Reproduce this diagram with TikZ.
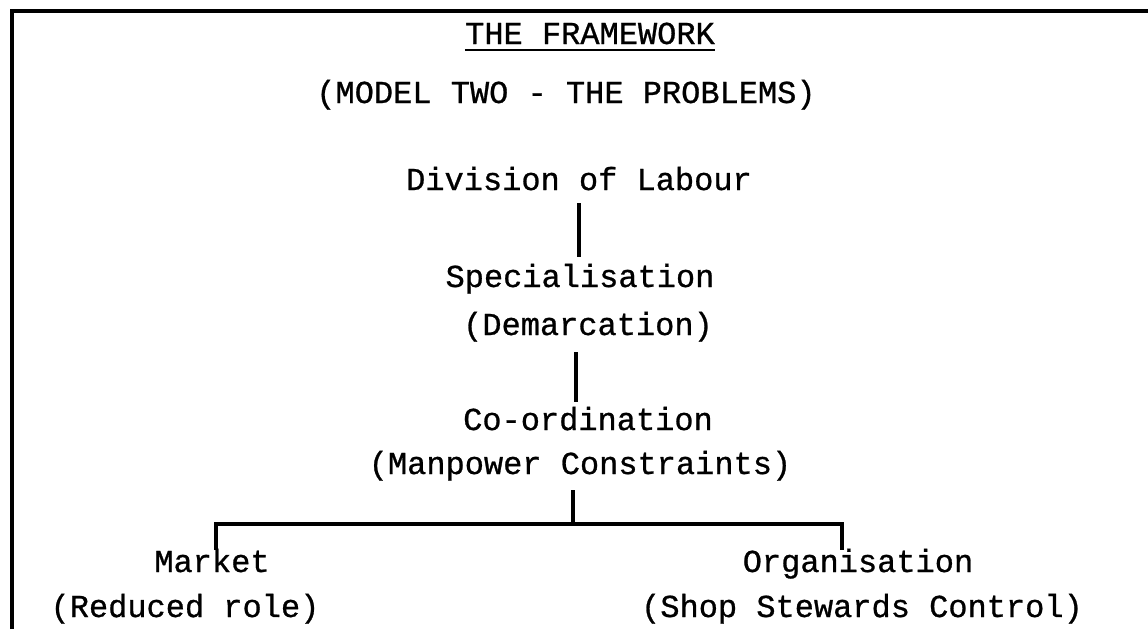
\documentclass[tikz,border=0pt]{standalone}
\usepackage{fontspec}
\setmainfont{Liberation Mono}[FakeBold=0.8]
\usetikzlibrary{calc}
\begin{document}
\begin{tikzpicture}[x=1pt,y=-1pt,
  lbl/.style={anchor=base,inner sep=0pt,font=\fontsize{32}{32}\selectfont},
  link/.style={line width=3.2pt,line join=miter},
  frame/.style={line width=3.6pt,line join=miter}]
\useasboundingbox (0,0) rectangle (1148,629);
% open frame: top and left edges only
\draw[frame] (12,629) -- (12,11) -- (1148,11);

% heading
\node[lbl] (title) at (590,44) {THE FRAMEWORK};
\draw[line width=2.2pt] ($(title.base west)+(0,6)$) -- ($(title.base east)+(0,6)$);
\node[lbl] (model) at (566,103) {(MODEL TWO - THE PROBLEMS)};

% chain
\node[lbl] (div)  at (579,190) {Division of Labour};
\node[lbl] (spec) at (580,287) {Specialisation};
\node[lbl] (dem)  at (588,335) {(Demarcation)};
\node[lbl] (coord) at (588,430) {Co-ordination};
\node[lbl] (man)  at (580,474) {(Manpower Constraints)};

% branches
\node[lbl] (mkt) at (212,572) {Market};
\node[lbl] (red) at (185,617) {(Reduced role)};
\node[lbl] (org) at (858,572) {Organisation};
\node[lbl] (ssc) at (862,617) {(Shop Stewards Control)};

% connectors
\draw[link] ($(div.base)+(0,13)$) -- ($(div.base |- spec.base)+(0,-30)$);
\draw[link] ($(dem.base)+(-12,17)$) -- ($(dem.base |- coord.base)+(-12,-28)$);
\draw[link] ($(man.base)+(-7,16)$) -- ($(man.base)+(-7,51)$);
\draw[link] ($(mkt.base)+(4,-22)$) |- ($(org.base)+(-16,-48)$) -- ($(org.base)+(-16,-22)$);
\end{tikzpicture}
\end{document}
